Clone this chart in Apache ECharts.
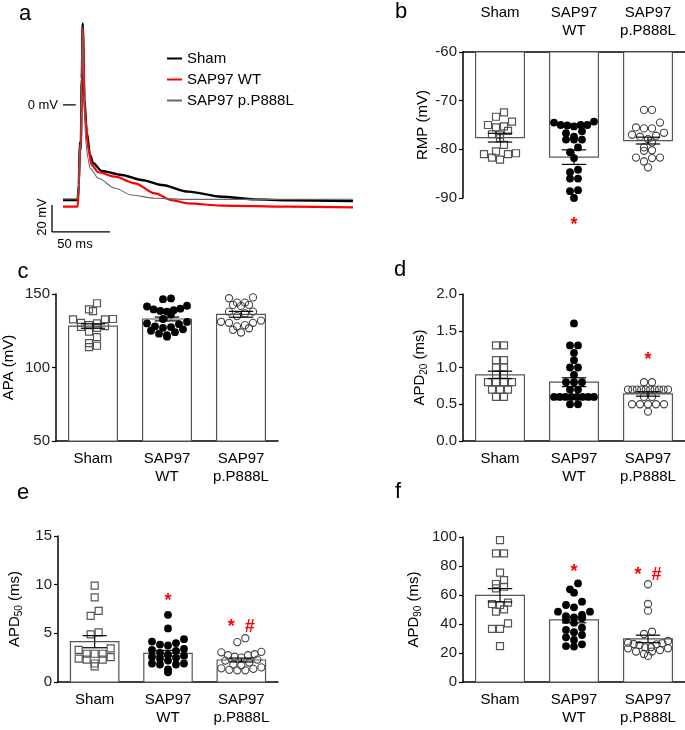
<!DOCTYPE html>
<html>
<head>
<meta charset="utf-8">
<script src="https://cdn.jsdelivr.net/npm/echarts@6.0.0/dist/echarts.min.js"></script>
<style>
html,body{margin:0;padding:0;background:#fff;}
#chart{width:685px;height:730px;}
</style>
</head>
<body>
<div id="chart"></div>
<script>
var FONT = '"Liberation Sans", Arial, sans-serif';

// categories
var groups = ['Sham', 'SAP97\nWT', 'SAP97\np.P888L'];
var traceNames = ['Sham', 'SAP97 WT', 'SAP97 p.P888L'];

// panel a: representative action potentials, [ms, mV]
var shamTrace = [[0,-71.2],[12.6,-71.2],[13.6,-60],[14.5,-28],[15.3,-33],[16.2,20],[17,61],[18.4,5],[20.4,-20],[23.3,-37.5],[26.1,-43.7],[33.3,-49.4],[50.6,-52.4],[67.8,-56.2],[85,-59.9],[108,-64.9],[136.8,-68.7],[165.5,-70.7],[194,-71.4],[250,-72]];
var wtTrace = [[0,-76.2],[12.6,-76.2],[13.6,-62],[14.6,-30],[15.4,-34],[16.2,20],[17,58],[19,-7.5],[21.8,-32.5],[24.7,-45],[30.5,-50.4],[44.8,-53.7],[62,-58.7],[79.3,-66.2],[93.7,-71.2],[108,-73.7],[136.8,-75.4],[194,-76.2],[250,-76.7]];
var mutTrace = [[0,-70.4],[12.6,-70.4],[13.6,-58],[14.6,-30],[15.4,-34],[16.2,20],[17,57],[18.2,10],[19.6,-27.5],[21.5,-40],[23.3,-47.4],[30.5,-54.9],[44.8,-62.4],[59.2,-67.4],[79.3,-69.9],[108,-70.7],[250,-70.6]];

// panel b: RMP (mV)
var rmpSham = [-72.4,-73.3,-74.3,-75.0,-75.3,-75.5,-76.2,-76.9,-77.0,-77.7,-79.1,-80.8,-81.0,-82.1,-81.7,-81.0,-80.4];
var rmpWT = [-74.3,-75.0,-75.0,-75.3,-75.1,-75.0,-74.5,-76.3,-76.7,-77.4,-78.0,-78.0,-78.0,-79.6,-80.6,-81.8,-84.2,-84.7,-86.0,-86.0,-88.4,-88.6,-90.0];
var rmpMut = [-71.9,-71.9,-74.5,-75.7,-75.5,-75.7,-76.6,-77.0,-77.4,-77.2,-78.6,-77.9,-80.2,-80.3,-79.6,-81.7,-81.8,-81.7,-82.5,-83.7];
var rmpMean = [-77.6,-81.6,-78.2];
var rmpSem = [0.9,1.5,0.7];

// panel c: APA (mV)
var apaSham = [143.7,139.6,138.4,133,132.7,132.7,130.0,130.4,128.2,127,127.7,128.8,124.4,120.6,116.6,113.9,114.8];
var apaWT = [147,146.5,142,141.5,140,139.5,139,138.5,138,136,133,131,130,129.5,128,127.5,127,126,125,124,123,122,121];
var apaMut = [147.7,147.1,144.1,142.6,141.9,142.6,144.1,138,138,136.8,131.9,130.4,131.1,130.4,128.8,128,125.6,123.8,126.7,135];
var apaMean = [128.2,133,136.2];
var apaSem = [1.5,1.3,2];

// panel d: APD20 (ms)
var apd20Sham = [1.3,1.3,1.1,1.1,1.0,1.0,0.9,0.9,0.8,0.8,0.8,0.8,0.7,0.7,0.7,0.6,0.6];
var apd20WT = [1.6,1.3,1.3,1.2,1.1,1.0,1.0,0.9,0.8,0.8,0.8,0.7,0.7,0.6,0.6,0.6,0.6,0.6,0.6,0.6,0.6,0.5,0.5];
var apd20Mut = [0.8,0.8,0.7,0.7,0.7,0.7,0.7,0.7,0.7,0.7,0.7,0.7,0.6,0.6,0.5,0.5,0.5,0.5,0.5,0.4];
var apd20Mean = [0.9,0.8,0.64];
var apd20Sem = [0.05,0.06,0.03];

// panel e: APD50 (ms)
var apd50Sham = [9.9,8.7,7.3,6.8,4.9,5.1,3.3,3.45,2.9,2.9,2.9,2.4,2.55,2.3,2.3,1.6,1.9];
var apd50WT = [6.9,5.5,4.4,4.0,3.75,3.85,4.15,3.3,3.4,3.2,3.0,2.8,2.7,2.6,2.5,2.4,2.2,1.9,1.8,1.8,1.9,1.0,1.3];
var apd50Mut = [4.5,4.1,3.1,3.05,2.75,2.85,2.6,2.75,2.5,2.2,2.3,2.0,1.8,1.5,1.35,1.2,1.2,1.25,1.4,1.7];
var apd50Mean = [4.14,2.95,2.26];
var apd50Sem = [0.62,0.3,0.2];

// panel f: APD90 (ms)
var apd90Sham = [97.9,88.7,88.7,75.4,67.6,70.3,64.6,65.7,54.7,53.1,53.8,48.5,50.1,40.5,36.6,36.6,24.8];
var apd90WT = [68,61.6,63.9,53.1,55.4,48.5,48.5,51.5,45.5,43.9,42.8,40.9,44.6,46.2,37.5,34.3,32.4,35.9,30.8,29,26,24.4,24.8];
var apd90Mut = [67.4,53.8,49.2,34.7,33.1,28.3,26.7,26.2,25.5,27.1,23.9,23.2,21,18,19.3,21,23.2,26,24,22];
var apd90Mean = [59.8,42.8,29.7];
var apd90Sem = [4.6,2,2.6];

// significance marks [group, value, text]
var sigB = [[1,-95.6,'*']];
var sigD = [[2,1.1,'*']];
var sigE = [[1,8.3,'*'],[2,5.6,'*  #']];
var sigF = [[1,75.5,'*'],[2,73.5,'*  #']];

var swarmCache = {};

// rows of nearby points, spread sideways around the group centre
function swarm(ys, d, maxHalf){
    var order = ys.map(function(y,i){return i;}).sort(function(a,b){return ys[a]-ys[b];});
    var xs = [];
    var row = [];
    var start = null;
    function flush(){
        var n = row.length;
        var step = n>1 ? Math.min(d, 2*maxHalf/(n-1)) : 0;
        var pos = [];
        for(var k=0;k<n;k++) pos.push((k-(n-1)/2)*step);
        pos.sort(function(a,b){return Math.abs(a)-Math.abs(b) || a-b;});
        row.sort(function(a,b){return ys[b]-ys[a];});
        row.forEach(function(i,k){ xs[i]=pos[k]; });
        row = [];
    }
    order.forEach(function(i){
        if(start===null || ys[i]-start >= d*0.8){
            if(row.length) flush();
            start = ys[i];
        }
        row.push(i);
    });
    if(row.length) flush();
    return xs;
}

function pointSeries(g, cat, values, kind){
    var key = g+'_'+cat;
    return {
        type:'custom', xAxisIndex:g, yAxisIndex:g, z:3, silent:true,
        data: values.map(function(v){return [cat,v];}),
        renderItem: function(params, api){
            if(params.dataIndex===0 || !swarmCache[key]){
                var ys = values.map(function(v){return api.coord([cat,v])[1];});
                swarmCache[key] = swarm(ys, 8, 20);
            }
            var p = api.coord([cat, api.value(1)]);
            var x = p[0] + swarmCache[key][params.dataIndex], y = p[1];
            if(kind==='square'){
                return {type:'rect', shape:{x:x-3.5,y:y-3.5,width:7,height:7},
                    style:{fill:'transparent',stroke:'#555',lineWidth:1.2}};
            }
            if(kind==='dot'){
                return {type:'circle', shape:{cx:x,cy:y,r:3.9}, style:{fill:'#000'}};
            }
            return {type:'circle', shape:{cx:x,cy:y,r:3.6},
                style:{fill:'transparent',stroke:'#444',lineWidth:1.1}};
        }
    };
}

function barSeries(g, means, base){
    return {
        type:'custom', xAxisIndex:g, yAxisIndex:g, z:2, silent:true,
        data: means.map(function(m,i){return [i,m];}),
        renderItem: function(params, api){
            var top = api.coord([api.value(0), api.value(1)]);
            var bot = api.coord([api.value(0), base]);
            var w = api.size([1,0])[0]*0.66;
            return {type:'rect',
                shape:{x:top[0]-w/2, y:Math.min(top[1],bot[1]), width:w, height:Math.abs(bot[1]-top[1])},
                style:{fill:'#fff', stroke:'#555', lineWidth:1.2}};
        }
    };
}

function errSeries(g, means, sems){
    return {
        type:'custom', xAxisIndex:g, yAxisIndex:g, z:4, silent:true,
        data: means.map(function(m,i){return [i,m,sems[i]];}),
        renderItem: function(params, api){
            var i = api.value(0), m = api.value(1), s = api.value(2);
            var hi = api.coord([i, m+s]), lo = api.coord([i, m-s]);
            var c = api.size([1,0])[0]*0.66*0.25;
            var st = {stroke:'#000', lineWidth:1.2};
            return {type:'group', children:[
                {type:'line', shape:{x1:hi[0],y1:hi[1],x2:lo[0],y2:lo[1]}, style:st},
                {type:'line', shape:{x1:hi[0]-c,y1:hi[1],x2:hi[0]+c,y2:hi[1]}, style:st},
                {type:'line', shape:{x1:lo[0]-c,y1:lo[1],x2:lo[0]+c,y2:lo[1]}, style:st}
            ]};
        }
    };
}

function sigSeries(g, marks){
    return {
        type:'custom', xAxisIndex:g, yAxisIndex:g, z:5, silent:true, clip:false,
        data: marks.map(function(m){return [m[0],m[1]];}),
        renderItem: function(params, api){
            var p = api.coord([api.value(0), api.value(1)]);
            return {type:'text', x:p[0], y:p[1],
                style:{text:marks[params.dataIndex][2], fill:'#f00', font:'bold 18px '+FONT,
                    align:'center', verticalAlign:'middle'}};
        }
    };
}

function panelSeries(g, sham, wt, mut, means, sems, base, sig){
    var s = [barSeries(g, means, base),
        pointSeries(g, 0, sham, 'square'),
        pointSeries(g, 1, wt, 'dot'),
        pointSeries(g, 2, mut, 'ring'),
        errSeries(g, means, sems)];
    if(sig) s.push(sigSeries(g, sig));
    return s;
}

function catAxis(g, pos){
    var ax = {
        type:'category', gridIndex:g, data:groups, position:pos||'bottom',
        axisLine:{lineStyle:{color:'#000',width:1.5}},
        axisTick:{show:false},
        axisLabel:{color:'#000', fontSize:15, fontFamily:FONT, lineHeight:18, margin:9, interval:0}
    };
    if(pos==='top'){
        ax.axisLabel.verticalAlign = 'top';
        ax.axisLabel.margin = 48;
    }
    return ax;
}

function valAxis(g, min, max, interval, name, gap, extra){
    var ax = {
        type:'value', gridIndex:g, min:min, max:max, interval:interval,
        axisLine:{show:true, lineStyle:{color:'#000',width:1.5}},
        axisTick:{show:true, length:4, lineStyle:{color:'#000',width:1.2}},
        axisLabel:{color:'#222', fontSize:15, fontFamily:FONT, margin:6},
        splitLine:{show:false},
        name:name, nameLocation:'middle', nameRotate:90, nameGap:gap,
        nameTextStyle:{color:'#000', fontSize:15, fontFamily:FONT,
            rich:{s:{fontSize:10, fontFamily:FONT, color:'#000', verticalAlign:'bottom', padding:[8,0,0,0]}}}
    };
    for(var k in extra) ax[k]=extra[k];
    return ax;
}

var traceColors = ['#000','#f00','#666'];
var traceWidths = [2.4,2.2,1.1];
var traceSeries = [shamTrace, wtTrace, mutTrace].map(function(d,i){
    return {type:'line', name:traceNames[i], xAxisIndex:0, yAxisIndex:0, data:d,
        showSymbol:false, symbol:'none', smooth:0.3, smoothMonotone:'x', silent:true,
        lineStyle:{color:traceColors[i], width:traceWidths[i]}, itemStyle:{color:traceColors[i]}};
});
// scale bar and 0 mV mark
traceSeries.push({type:'line', xAxisIndex:0, yAxisIndex:0, symbol:'none', silent:true,
    data:[[-9.5,-75],[-9.5,-95],[40.5,-95]], lineStyle:{color:'#000',width:1.3}});
traceSeries.push({type:'line', xAxisIndex:0, yAxisIndex:0, symbol:'none', silent:true,
    data:[[0,0],[11,0]], lineStyle:{color:'#000',width:1.3}});

var grids = [
    {left:45.6, top:11.5, width:307.4, height:227},
    {left:463, top:52, width:222, height:146},
    {left:56, top:294, width:222, height:147},
    {left:463, top:294, width:222, height:147},
    {left:58, top:536, width:220, height:146},
    {left:463, top:537, width:222, height:145}
].map(function(g){ g.containLabel=false; g.outerBoundsMode='none'; return g; });

function letter(t, x, y){
    return {type:'text', x:x, y:y, style:{text:t, font:'22px '+FONT, fill:'#000', align:'center', verticalAlign:'middle'}};
}
function note(t, x, y, align, rot){
    return {type:'text', x:x, y:y, rotation:rot||0,
        style:{text:t, font:'13px '+FONT, fill:'#000', align:align, verticalAlign:'middle'}};
}

var option = {
    animation:false,
    backgroundColor:'#fff',
    textStyle:{fontFamily:FONT},
    grid:grids,
    legend:{
        data:traceNames.map(function(n,i){
            return {name:n, icon:'rect', itemStyle:{color:traceColors[i]}};
        }),
        orient:'vertical', left:162, top:46,
        itemWidth:15, itemHeight:2, itemGap:6,
        textStyle:{fontSize:15, color:'#000', fontFamily:FONT},
        selectedMode:false
    },
    xAxis:[
        {type:'value', gridIndex:0, min:-15, max:250, show:false},
        catAxis(1,'top'),
        catAxis(2),
        catAxis(3),
        catAxis(4),
        catAxis(5)
    ],
    yAxis:[
        {type:'value', gridIndex:0, min:-100, max:70, show:false},
        valAxis(1,-90,-60,10,'RMP (mV)',33),
        valAxis(2,50,150,50,'APA (mV)',40),
        valAxis(3,0,2,0.5,'APD{s|20} (ms)',34,{axisLabel:{color:'#222',fontSize:15,fontFamily:FONT,margin:6,formatter:function(v){return v.toFixed(1);}}}),
        valAxis(4,0,15,5,'APD{s|50} (ms)',34),
        valAxis(5,0,100,20,'APD{s|90} (ms)',40)
    ],
    graphic:[
        letter('a',25,14), letter('b',401,12), letter('c',23,272),
        letter('d',400,270), letter('e',23,493), letter('f',398,492),
        note('0 mV',58,105,'right'),
        note('20 mV',42,217,'center',Math.PI/2),
        note('50 ms',75,244,'center')
    ],
    series: traceSeries
        .concat(panelSeries(1, rmpSham, rmpWT, rmpMut, rmpMean, rmpSem, -60, sigB))
        .concat(panelSeries(2, apaSham, apaWT, apaMut, apaMean, apaSem, 50))
        .concat(panelSeries(3, apd20Sham, apd20WT, apd20Mut, apd20Mean, apd20Sem, 0, sigD))
        .concat(panelSeries(4, apd50Sham, apd50WT, apd50Mut, apd50Mean, apd50Sem, 0, sigE))
        .concat(panelSeries(5, apd90Sham, apd90WT, apd90Mut, apd90Mean, apd90Sem, 0, sigF))
};

var myChart = echarts.init(document.getElementById('chart'));
myChart.setOption(option);
</script>
</body>
</html>
